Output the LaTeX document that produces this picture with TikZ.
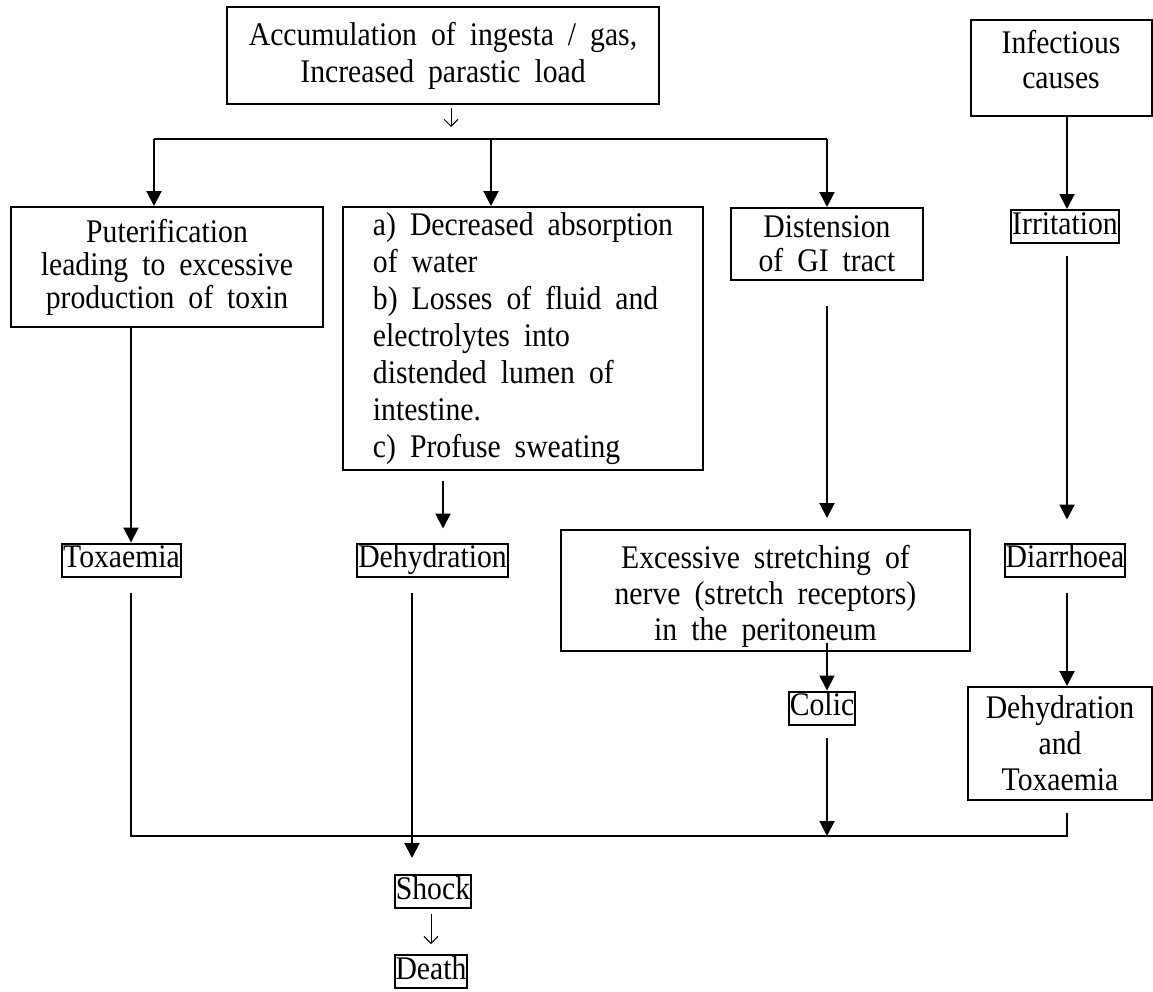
\documentclass[tikz,border=0pt]{standalone}
\usepackage{fontspec}
\setmainfont{Liberation Serif}[FakeStretch=0.9]
\usetikzlibrary{arrows.meta}
\newcommand\wordgap{\spaceskip=14pt plus 2pt\relax}
\begin{document}
\begin{tikzpicture}[x=1pt,y=-1pt,
  lines/.style={font=\fontsize{33}{#1}\selectfont\wordgap},
  box/.style={draw, line width=2pt, inner sep=0pt, align=center},
  tag/.style={draw, line width=2pt, inner xsep=1pt, inner ysep=1pt,
    text height=23pt, text depth=8pt, font=\fontsize{33}{36}\selectfont},
  txt/.style={inner sep=0pt, align=center},
  arr/.style={line width=2pt, -{Triangle[width=15pt,length=15pt]}},
  bus/.style={line width=1.6pt},
  thinarr/.style={line width=1pt, -{Straight Barb[length=7pt,width=14pt,line width=1pt]}}]
\useasboundingbox (0,0) rectangle (1153,991);

% boxes with several lines of text
\node[box, minimum width=432pt, minimum height=97pt, lines=37]
  (top) at (443,55.5) {Accumulation of ingesta / gas,\\Increased parastic load};
\node[box, minimum width=181pt, minimum height=96pt] (infect) at (1061,68) {};
\node[txt, lines=35] (infecttext) at (1061,60) {Infectious\\causes};
\node[box, minimum width=312pt, minimum height=120pt, lines=33]
  (put) at (167,267) {Puterification\\leading to excessive\\production of toxin};
\node[box, align=left, minimum width=360pt, minimum height=263pt, lines=37]
  (absorb) at (523,338.5) {a) Decreased absorption\\of water\\b) Losses of fluid and\\electrolytes into\\distended lumen of\\intestine.\\c) Profuse sweating};
\node[box, minimum width=192pt, minimum height=72pt, lines=34]
  (dist) at (827,244) {Distension\\of GI tract};
\node[box, minimum width=409pt, minimum height=121pt] (excess) at (765.5,590.5) {};
\node[txt, lines=36] (excesstext) at (765.5,596) {Excessive stretching of\\nerve (stretch receptors)\\in the peritoneum};
\node[box, minimum width=184pt, minimum height=113pt, lines=36]
  (dt) at (1060,743.5) {Dehydration\\and\\Toxaemia};

% single-word boxes
\node[tag] (irrit) at (1065,226.5) {Irritation};
\node[tag] (tox) at (121.5,560) {Toxaemia};
\node[tag] (dehy) at (432.5,560) {Dehydration};
\node[tag] (diarr) at (1065,560) {Diarrhoea};
\node[tag] (colic) at (822,708) {Colic};
\node[tag] (shock) at (433,891.5) {Shock};
\node[tag] (death) at (431,971.5) {Death};

% columns and rows of the connectors
\coordinate (cA) at (131,0);
\coordinate (cB) at (443,0);
\coordinate (cC) at (412,0);
\coordinate (cD) at (827,0);
\coordinate (cE) at (1067,0);
\coordinate (rowBus) at (0,836);
\coordinate (busL) at (154,139);
\coordinate (busM) at (491,139);
\coordinate (busR) at (827,139);
\coordinate (split) at (451,139);

% top distribution bus
\draw[thinarr, shorten <=3pt, shorten >=12pt] (top.south -| split) -- (split);
\draw[bus] (busL) -- (busR);
\draw[arr] (busL) -- (busL |- put.north);
\draw[arr] (busM) -- (busM |- absorb.north);
\draw[arr] (busR) -- (busR |- dist.north);

% left branches
\draw[arr] (cA |- put.south) -- (cA |- tox.north);
\draw[arr, shorten <=10pt, shorten >=14pt] (cB |- absorb.south) -- (cB |- dehy.north);
\draw[arr, shorten <=15pt, shorten >=16pt] (cC |- dehy.south) -- (cC |- shock.north);

% distension branch
\draw[arr, shorten <=25pt, shorten >=11pt] (cD |- dist.south) -- (cD |- excess.north);
\draw[arr, shorten <=-9pt] (cD |- excess.south) -- (cD |- colic.north);
\draw[arr, shorten <=12pt] (cD |- colic.south) -- (cD |- rowBus);

% infectious branch
\draw[arr] (cE |- infect.south) -- (cE |- irrit.north);
\draw[arr, shorten <=12pt, shorten >=23pt] (cE |- irrit.south) -- (cE |- diarr.north);
\draw[arr, shorten <=15pt] (cE |- diarr.south) -- (cE |- dt.north);

% collecting line at the bottom
\draw[bus, shorten <=15pt, shorten >=12pt]
  (cA |- tox.south) -- (cA |- rowBus) -- (cE |- rowBus) -- (cE |- dt.south);

% shock leads to death
\draw[thinarr, shorten <=5pt, shorten >=10pt] (shock.south -| death.north) -- (death.north);
\end{tikzpicture}
\end{document}
